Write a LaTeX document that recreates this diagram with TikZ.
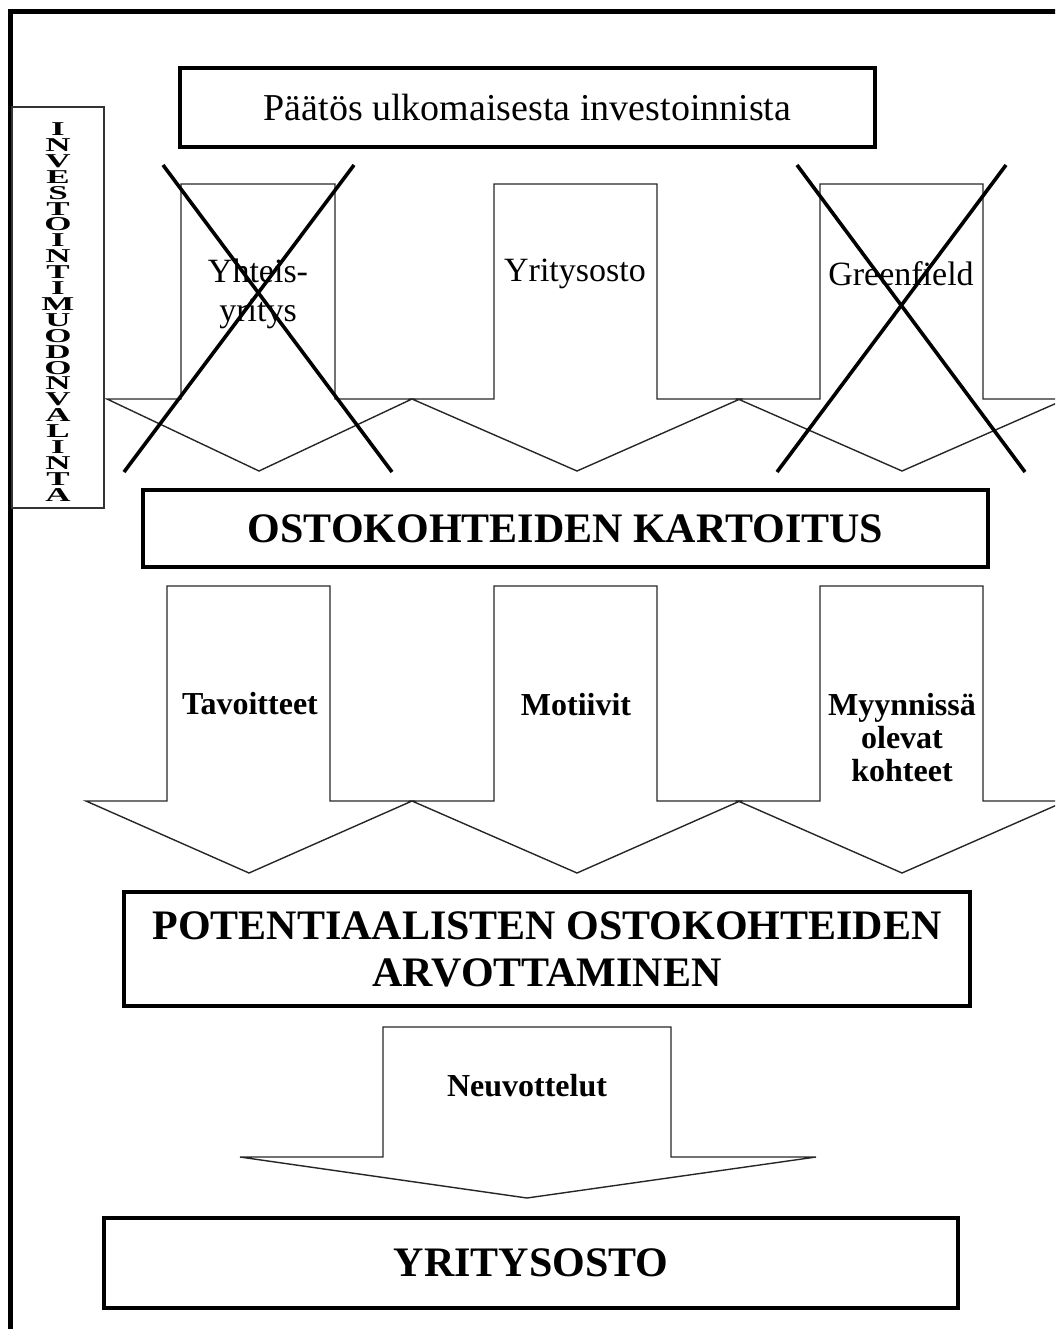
\documentclass[tikz,border=0pt]{standalone}
\usepackage{fontspec}
\setmainfont{Liberation Serif}
\usepackage{graphicx}
\usepackage{tikz}
\usetikzlibrary{calc}
\usetikzlibrary{arrows.meta, positioning, shapes.geometric}

\newcommand{\vlet}[1]{\scalebox{1.25}[0.7]{#1}}

\begin{document}
\begin{tikzpicture}[x=1pt, y=-1pt,
    thickbox/.style={draw, line width=4pt, rectangle, inner sep=0pt},
    thinbox/.style={draw=black!80, line width=1.2pt, rectangle, inner sep=0pt},
    blockarrow/.style={draw=black!85, line width=1.4pt, line join=miter},
    crossline/.style={line width=3.6pt},
    lbl/.style={font=\fontsize{34}{39}\selectfont, align=center},
    blbl/.style={font=\fontsize{32}{33}\selectfont\bfseries, align=center},
    big/.style={font=\fontsize{42}{47}\selectfont\bfseries, align=center},
    vtext/.style={font=\fontsize{28}{15.9}\selectfont\bfseries, align=center, inner sep=0pt}]
    \useasboundingbox (0,0) rectangle (1055,1329);
    \clip (0,0) rectangle (1055,1329);
    % 外框
    \draw[line width=5pt] (10,12) rectangle (1080,1360);
    % 左侧竖排标题
    \node[thinbox, minimum width=92, minimum height=401] (vbox) at (58,307.5) {};
    \node[vtext] (valinta) at (58,312) {\vlet{I}\\\vlet{N}\\\vlet{V}\\\vlet{E}\\\vlet{S}\\\vlet{T}\\\vlet{O}\\\vlet{I}\\\vlet{N}\\\vlet{T}\\\vlet{I}\\\vlet{M}\\\vlet{U}\\\vlet{O}\\\vlet{D}\\\vlet{O}\\\vlet{N}\\\vlet{V}\\\vlet{A}\\\vlet{L}\\\vlet{I}\\\vlet{N}\\\vlet{T}\\\vlet{A}};
    % 决策框
    \node[thickbox, minimum width=695, minimum height=79, font=\fontsize{38}{42}\selectfont] (paatos) at (527.5,107.5) {Päätös ulkomaisesta investoinnista};
    % 第一行箭头
    \foreach \sl/\sr/\hl/\hr/\tx in {181/335/107/412/259, 494/657/412/740/577, 820/983/738/1066/902} {
        \draw[blockarrow] (\sl,184) -- (\sr,184) -- (\sr,399) -- (\hr,399) -- (\tx,471) -- (\hl,399) -- (\sl,399) -- cycle;
    }
    \node[lbl] (yhteis) at (258,294) {Yhteis-\\yritys};
    \node[lbl] (yosto1) at (575,274) {Yritysosto};
    \node[lbl] (green) at (901,274) {Greenfield};
    % 划掉的选项
    \draw[crossline] (163,165) -- (392,472);
    \draw[crossline] (354,165) -- (124,472);
    \draw[crossline] (797,165) -- (1025,472);
    \draw[crossline] (1006,165) -- (777,472);
    % 目标筛选
    \node[thickbox, big, minimum width=845, minimum height=77] (kartoitus) at (565.5,528.5) {OSTOKOHTEIDEN KARTOITUS};
    % 第二行箭头
    \foreach \sl/\sr/\hl/\hr/\tx in {167/330/86/412/249, 494/657/412/740/577, 820/983/738/1066/902} {
        \draw[blockarrow] (\sl,586) -- (\sr,586) -- (\sr,801) -- (\hr,801) -- (\tx,873) -- (\hl,801) -- (\sl,801) -- cycle;
    }
    \node[blbl] (tavoitteet) at (250,704) {Tavoitteet};
    \node[blbl] (motiivit) at (576,705) {Motiivit};
    \node[blbl] (myynnissa) at (902,738) {Myynnissä\\olevat\\kohteet};
    % 评估
    \node[thickbox, big, minimum width=846, minimum height=114] (arvo) at (547,949) {POTENTIAALISTEN OSTOKOHTEIDEN\\ARVOTTAMINEN};
    % 谈判箭头
    \draw[blockarrow] (383,1027) -- (671,1027) -- (671,1157) -- (816,1157) -- (527,1198) -- (240,1157) -- (383,1157) -- cycle;
    \node[blbl] (neuvottelut) at (527,1086) {Neuvottelut};
    % 结果
    \node[thickbox, big, minimum width=854, minimum height=90] (yosto) at (531,1263) {YRITYSOSTO};
\end{tikzpicture}
\end{document}
